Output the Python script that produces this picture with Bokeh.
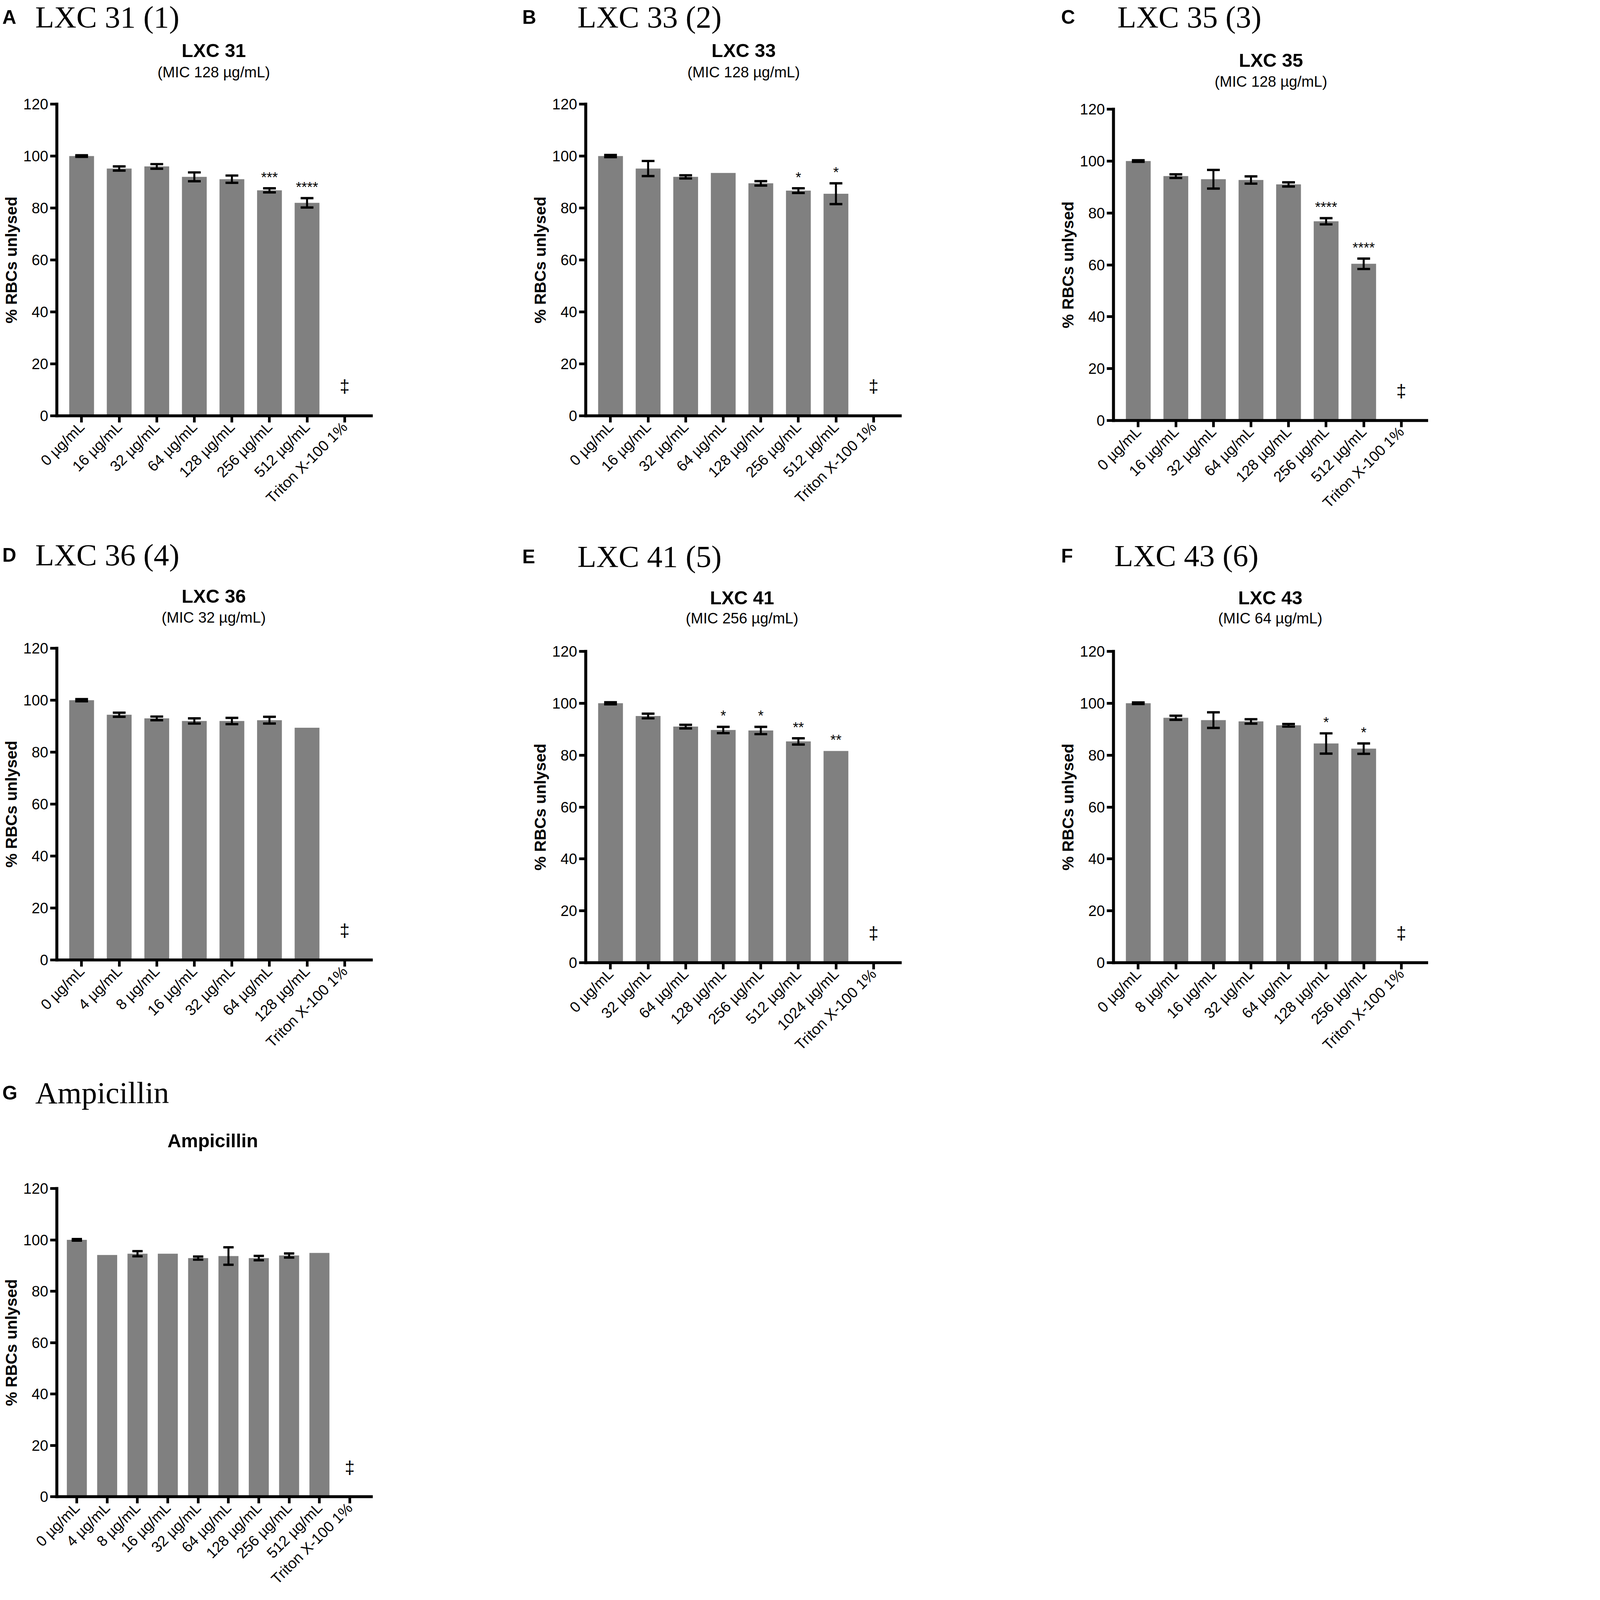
import math
from bokeh.plotting import figure
from bokeh.models import Range1d, FixedTicker, ColumnDataSource, Div, Spacer
from bokeh.layouts import row, column
from bokeh.core.properties import value
from bokeh.embed import file_html
from bokeh.resources import INLINE

TRITON = "Triton X-100 1%"

# ---------------- data ----------------
a_cats = ["0 µg/mL", "16 µg/mL", "32 µg/mL", "64 µg/mL", "128 µg/mL", "256 µg/mL", "512 µg/mL", TRITON]
a_vals = [100.0, 95.2, 96.0, 92.0, 91.1, 86.8, 82.0, 0.0]
a_errs = [0.3, 0.8, 0.9, 1.7, 1.4, 0.8, 1.8, 0.0]
a_sig = ["", "", "", "", "", "***", "****", "‡"]

b_cats = ["0 µg/mL", "16 µg/mL", "32 µg/mL", "64 µg/mL", "128 µg/mL", "256 µg/mL", "512 µg/mL", TRITON]
b_vals = [100.0, 95.2, 92.0, 93.5, 89.5, 86.7, 85.5, 0.0]
b_errs = [0.4, 2.9, 0.6, 0.0, 0.85, 0.9, 4.0, 0.0]
b_sig = ["", "", "", "", "", "*", "*", "‡"]

c_cats = ["0 µg/mL", "16 µg/mL", "32 µg/mL", "64 µg/mL", "128 µg/mL", "256 µg/mL", "512 µg/mL", TRITON]
c_vals = [100.0, 94.2, 93.0, 92.7, 91.0, 76.8, 60.4, 0.0]
c_errs = [0.3, 0.7, 3.6, 1.4, 0.8, 1.2, 2.0, 0.0]
c_sig = ["", "", "", "", "", "****", "****", "‡"]

d_cats = ["0 µg/mL", "4 µg/mL", "8 µg/mL", "16 µg/mL", "32 µg/mL", "64 µg/mL", "128 µg/mL", TRITON]
d_vals = [100.0, 94.4, 93.0, 92.0, 92.0, 92.3, 89.4, 0.0]
d_errs = [0.4, 0.8, 0.7, 1.0, 1.2, 1.3, 0.0, 0.0]
d_sig = ["", "", "", "", "", "", "", "‡"]

e_cats = ["0 µg/mL", "32 µg/mL", "64 µg/mL", "128 µg/mL", "256 µg/mL", "512 µg/mL", "1024 µg/mL", TRITON]
e_vals = [100.0, 95.1, 91.0, 89.7, 89.5, 85.3, 81.6, 0.0]
e_errs = [0.4, 0.9, 0.7, 1.2, 1.4, 1.2, 0.0, 0.0]
e_sig = ["", "", "", "*", "*", "**", "**", "‡"]

f_cats = ["0 µg/mL", "8 µg/mL", "16 µg/mL", "32 µg/mL", "64 µg/mL", "128 µg/mL", "256 µg/mL", TRITON]
f_vals = [100.0, 94.4, 93.5, 93.0, 91.5, 84.5, 82.5, 0.0]
f_errs = [0.3, 0.8, 3.0, 0.85, 0.5, 3.9, 2.0, 0.0]
f_sig = ["", "", "", "", "", "*", "*", "‡"]

g_cats = ["0 µg/mL", "4 µg/mL", "8 µg/mL", "16 µg/mL", "32 µg/mL", "64 µg/mL", "128 µg/mL",
          "256 µg/mL", "512 µg/mL", TRITON]
g_vals = [100.0, 94.1, 94.6, 94.6, 92.9, 93.7, 92.9, 93.9, 94.9, 0.0]
g_errs = [0.3, 0.0, 1.0, 0.0, 0.6, 3.4, 0.85, 0.8, 0.0, 0.0]
g_sig = ["", "", "", "", "", "", "", "", "", "‡"]

panel_letters = ["A", "B", "C", "D", "E", "F", "G"]
panel_headings = ["LXC 31 (1)", "LXC 33 (2)", "LXC 35 (3)", "LXC 36 (4)", "LXC 41 (5)", "LXC 43 (6)", "Ampicillin"]
panel_titles = ["LXC 31", "LXC 33", "LXC 35", "LXC 36", "LXC 41", "LXC 43", "Ampicillin"]
panel_subtitles = ["(MIC 128 µg/mL)", "(MIC 128 µg/mL)", "(MIC 128 µg/mL)", "(MIC 32 µg/mL)",
                   "(MIC 256 µg/mL)", "(MIC 64 µg/mL)", ""]

y_ticks = [0, 20, 40, 60, 80, 100, 120]
DAGGER_Y = 11.4
STAR_GAP = 4.2

SANS = "Liberation Sans"
SERIF = "Liberation Serif"
BAR = "#808080"

# the page is photographed at a larger pixel scale; design sizes are given in
# photo pixels and converted to CSS pixels with this factor
K = 1.0 / 1.175


def S(v):
    return int(round(v * K))


def fs(v):
    return "%.1fpx" % (v * K)


def panel(cats, vals, errs, sig, width, height, bl, bt, fw, fh):
    n = len(cats)
    W, H, BL, BT, FW, FH = S(width), S(height), S(bl), S(bt), S(fw), S(fh)
    BR = max(W - BL - FW, 0)
    BB = H - BT - FH
    p = figure(width=W, height=H,
               x_range=Range1d(-0.66, n - 1 + 0.71), y_range=Range1d(0, 120),
               output_backend="svg", toolbar_location=None, tools="",
               min_border_left=BL, min_border_right=BR,
               min_border_top=BT, min_border_bottom=BB)
    p.outline_line_color = None
    p.grid.visible = False

    idx = list(range(n))
    src = ColumnDataSource(dict(x=idx, top=vals))
    p.vbar(x="x", top="top", width=0.66, source=src, fill_color=BAR, line_color=None)

    ex = [i for i in idx if errs[i] > 0]
    lo = [vals[i] - errs[i] for i in ex]
    hi = [vals[i] + errs[i] for i in ex]
    p.segment(x0=ex, y0=lo, x1=ex, y1=hi, line_color="black", line_width=6 * K)
    cl = [i - 0.17 for i in ex]
    cr = [i + 0.17 for i in ex]
    p.segment(x0=cl, y0=hi, x1=cr, y1=hi, line_color="black", line_width=7 * K)
    p.segment(x0=cl, y0=lo, x1=cr, y1=lo, line_color="black", line_width=7 * K)

    sx = [i for i in idx if sig[i] and sig[i] != "‡"]
    if sx:
        p.text(x=sx, y=[vals[i] + errs[i] + STAR_GAP for i in sx], text=[sig[i] for i in sx],
               text_align="center", text_baseline="alphabetic",
               text_font=value(SANS), text_font_size=fs(43), text_color="black")
    dx = [i for i in idx if sig[i] == "‡"]
    if dx:
        p.text(x=dx, y=[vals[i] + DAGGER_Y for i in dx], text=["‡" for _ in dx],
               text_align="center", text_baseline="middle",
               text_font=value(SANS), text_font_size=fs(54), text_color="black")

    xa = p.xaxis[0]
    xa.ticker = FixedTicker(ticks=idx)
    xa.major_label_overrides = {i: c for i, c in enumerate(cats)}
    xa.major_label_orientation = math.pi / 4
    ya = p.yaxis[0]
    ya.ticker = FixedTicker(ticks=y_ticks)
    ya.axis_label = "% RBCs unlysed"
    ya.axis_label_text_font = SANS
    ya.axis_label_text_font_style = "bold"
    ya.axis_label_text_font_size = fs(48)
    ya.axis_label_text_color = "black"
    ya.axis_label_standoff = S(6)
    for ax in (xa, ya):
        ax.axis_line_width = 9 * K
        ax.axis_line_color = "black"
        ax.axis_line_cap = "square"
        ax.major_tick_out = S(20)
        ax.major_tick_in = 0
        ax.major_tick_line_width = 8 * K
        ax.major_tick_line_color = "black"
        ax.minor_tick_line_color = None
        ax.major_label_text_font = SANS
        ax.major_label_text_font_size = fs(45)
        ax.major_label_text_color = "black"
        ax.major_label_standoff = S(6)
    return p


def _span(x, y, text, family, size, bold, center):
    tx = "-50%" if center else "0"
    return ('<span style="position:absolute;left:%.1fpx;top:%.1fpx;transform:translate(%s,-50%%);'
            "font-family:'%s';font-weight:%s;font-size:%.1fpx;line-height:1;white-space:nowrap;"
            'color:#000;">%s</span>') % (x * K, y * K, tx, family, "bold" if bold else "normal",
                                        size * K, text)


def header(width, height, items):
    """items: (panel index, letter_x, heading_x, heading_y, title_cx, title_y, sub_y) in photo px"""
    W, H = S(width), S(height)
    parts = []
    for (k, lx, hx, hy, tcx, ty, sy) in items:
        parts.append(_span(lx, hy, panel_letters[k], SANS, 58, True, False))
        parts.append(_span(hx, hy, panel_headings[k], SERIF, 93, False, False))
        parts.append(_span(tcx, ty, panel_titles[k], SANS, 57, True, True))
        if panel_subtitles[k]:
            parts.append(_span(tcx, sy, panel_subtitles[k], SANS, 45, False, True))
    html = ('<div style="position:relative;width:%dpx;height:%dpx;overflow:visible;">' % (W, H)
            + "".join(parts) + "</div>")
    return Div(text=html, width=W, height=H, margin=0)


# row 1
h1 = header(4296, 270, [(0, 7, 106, 52, 643, 152, 217),
                        (1, 1571, 1737, 52, 2237, 152, 217),
                        (2, 3192, 3361, 52, 3823, 181, 246)])
pA = panel(a_cats, a_vals, a_errs, a_sig, 1550, 1322, 170, 42, 946, 938)
pB = panel(b_cats, b_vals, b_errs, b_sig, 1630, 1322, 212, 42, 946, 938)
pC = panel(c_cats, c_vals, c_errs, c_sig, 1116, 1301, 169, 36, 946, 936)
colC = column(Spacer(width=S(1116), height=S(21)), pC)

# row 2
h2 = header(4296, 300, [(3, 7, 106, 78, 643, 201, 266),
                        (4, 1571, 1737, 82, 2232, 206, 268),
                        (5, 3192, 3352, 80, 3821, 206, 268)])
pD = panel(d_cats, d_vals, d_errs, d_sig, 1550, 1340, 170, 57, 946, 938)
pE = panel(e_cats, e_vals, e_errs, e_sig, 1630, 1331, 212, 57, 946, 937)
pF = panel(f_cats, f_vals, f_errs, f_sig, 1116, 1331, 169, 57, 946, 937)
colEF = column(Spacer(width=S(1630 + 1116), height=S(9)), row(pE, pF))

# row 3
h3 = header(1550, 250, [(6, 7, 106, 55, 640, 198, 0)])
pG = panel(g_cats, g_vals, g_errs, g_sig, 1550, 1313, 170, 92, 946, 931)

layout = column(h1, row(pA, pB, colC), h2, row(pD, colEF), h3, pG)

open("out.html", "w").write(file_html(layout, INLINE))
